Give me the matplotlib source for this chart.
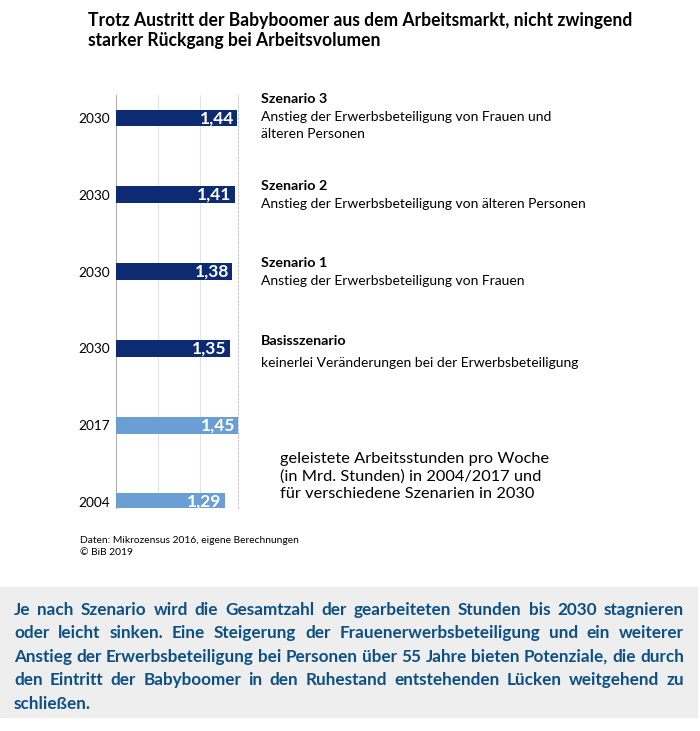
import matplotlib
matplotlib.use("Agg")
import matplotlib.pyplot as plt

plt.rcParams['font.family'] = ['Lato', 'DejaVu Sans']

years = ['2030', '2030', '2030', '2030', '2017', '2004']
values = [1.44, 1.41, 1.38, 1.35, 1.45, 1.29]
labels = ['1,44', '1,41', '1,38', '1,35', '1,45', '1,29']
kinds = ['s', 's', 's', 's', 'h', 'h']
scen_titles = ['Szenario 3', 'Szenario 2', 'Szenario 1', 'Basisszenario']
scen_texts = ['Anstieg der Erwerbsbeteiligung von Frauen und\nälteren Personen',
              'Anstieg der Erwerbsbeteiligung von älteren Personen',
              'Anstieg der Erwerbsbeteiligung von Frauen',
              'keinerlei Veränderungen bei der Erwerbsbeteiligung']
title = ('Trotz Austritt der Babyboomer aus dem Arbeitsmarkt, nicht zwingend\n'
         'starker Rückgang bei Arbeitsvolumen')
note = ('geleistete Arbeitsstunden pro Woche\n(in Mrd. Stunden) in 2004/2017 und\n'
        'für verschiedene Szenarien in 2030')
source = 'Daten: Mikrozensus 2016, eigene Berechnungen\n© BiB 2019'
summary = [
    'Je nach Szenario wird die Gesamtzahl der gearbeiteten Stunden bis 2030 stagnieren',
    'oder leicht sinken. Eine Steigerung der Frauenerwerbsbeteiligung und ein weiterer',
    'Anstieg der Erwerbsbeteiligung bei Personen über 55 Jahre bieten Potenziale, die durch',
    'den Eintritt der Babyboomer in den Ruhestand entstehenden Lücken weitgehend zu',
    'schließen.',
]

dark = '#0d2b72'
light = '#6b9fd3'
W, H = 700, 731

fig = plt.figure(figsize=(7, 7.31), dpi=100)
fig.patch.set_facecolor('white')
renderer = fig.canvas.get_renderer()


def px(x, y):
    return x / W, 1 - y / H


ax = fig.add_axes([116 / W, 1 - 508 / H, 122 / W, 413 / H])
n = len(values)
ypos = [n - 1 - i for i in range(n)]
colors = [dark if k == 's' else light for k in kinds]
ax.barh(ypos, values, height=0.22, color=colors, zorder=3)
ax.set_xlim(0, 1.45)
ax.set_ylim(-0.08, n - 1 + 0.30)
ax.set_xticks([0.5, 1.0])
ax.xaxis.grid(True, color='#e3e3e3', lw=0.8, zorder=0)
ax.tick_params(length=0, labelbottom=False)
ax.set_yticks(ypos)
ax.set_yticklabels(years, fontsize=9.8)
ax.tick_params(axis='y', pad=4.5)
for s in ['top', 'bottom']:
    ax.spines[s].set_visible(False)
ax.spines['left'].set_color('#b0b0b0')
ax.spines['right'].set_color('#c8c8c8')
ax.spines['right'].set_linestyle((0, (2, 2)))
ax.spines['right'].set_linewidth(0.7)
for y, v, lab in zip(ypos, values, labels):
    ax.text(v - 0.035, y, lab, color='white', fontsize=12.5, fontweight='bold',
            ha='right', va='center', zorder=4)

# title, scaled so that the first line is as wide as in the original
t = fig.text(*px(88, 12), title, fontsize=13, fontweight='bold', va='top',
             ha='left', linespacing=1.2)
t1 = fig.text(0, 0, title.split('\n')[0], fontsize=13, fontweight='bold')
t.set_fontsize(13 * 544 / t1.get_window_extent(renderer).width)
t1.remove()

# scenario labels
head_y = [103, 190, 267, 345]
for i, (st, tx) in enumerate(zip(scen_titles, scen_texts)):
    fig.text(*px(261, head_y[i]), st, fontsize=10.3, fontweight='bold',
             va='baseline')
    y = head_y[i] + 18 + (4 if i == 3 else 0)
    for part in tx.split('\n'):
        fig.text(*px(261, y), part, fontsize=10, va='baseline')
        y += 17

fig.text(*px(280, 452), note, fontsize=11.8, va='top', linespacing=1.3)
fig.text(*px(80, 536), source, fontsize=7.4, va='top', linespacing=1.45)

# summary box with justified lines
fig.patches.append(plt.Rectangle(px(0, 717), 697 / W, 130 / H,
                                 transform=fig.transFigure, color='#eeeeee',
                                 zorder=0))
x0, x1 = 14, 684
size = 12.5
probe = fig.text(0, 0, summary[2], fontsize=size, fontweight='bold')
size = size * (x1 - x0) / probe.get_window_extent(renderer).width
probe.remove()
line_y = [615, 638, 662, 685, 709]
for li, line in enumerate(summary):
    words = line.split(' ')
    objs = [fig.text(0, 0, w, fontsize=size, fontweight='bold', color='#0b4f85',
                     va='baseline') for w in words]
    widths = [o.get_window_extent(renderer).width for o in objs]
    if li < len(summary) - 1 and len(words) > 1:
        gap = (x1 - x0 - sum(widths)) / (len(words) - 1)
    else:
        gap = size * 0.3
    x = x0
    for o, w in zip(objs, widths):
        o.set_position(px(x, line_y[li]))
        x += w + gap

fig.savefig('out.png', dpi=100)
